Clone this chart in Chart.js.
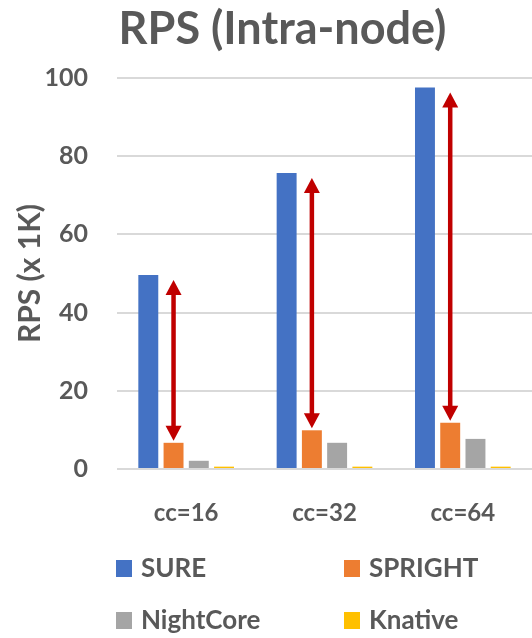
<!DOCTYPE html>
<html>
<head>
<meta charset="utf-8">
<script src="https://cdn.jsdelivr.net/npm/chart.js@4.4.1/dist/chart.umd.min.js"></script>
<style>
  html, body { margin: 0; padding: 0; background: #fff; }
  #wrap { width: 532px; height: 638px; }
</style>
</head>
<body>
<div id="wrap"><canvas id="myChart" width="532" height="638"></canvas></div>
<script>
const categories = ['cc=16', 'cc=32', 'cc=64'];
const sure = [49.6, 75.7, 97.6];
const spright = [6.7, 9.9, 11.8];
const nightcore = [2.1, 6.7, 7.7];
const knative = [0.6, 0.6, 0.6];
const yTicks = [0, 20, 40, 60, 80, 100];

const textColor = '#595959';
const fontFamily = 'Lato, "Open Sans", sans-serif';

// red double arrows from the SURE top down to the SPRIGHT top
const arrows = {
    id: 'arrows',
    afterDatasetsDraw(chart) {
        const ctx = chart.ctx;
        const y = chart.scales.y;
        const meta = chart.getDatasetMeta(1);
        ctx.save();
        ctx.fillStyle = '#C00000';
        ctx.strokeStyle = '#C00000';
        ctx.lineWidth = 4.5;
        meta.data.forEach((bar, i) => {
            const x = bar.x;
            const top = y.getPixelForValue(sure[i]) + 5;
            const bottom = y.getPixelForValue(spright[i]) - 2;
            const headL = 15, headW = 8;
            ctx.beginPath();
            ctx.moveTo(x, top + headL - 1);
            ctx.lineTo(x, bottom - headL + 1);
            ctx.stroke();
            ctx.beginPath();
            ctx.moveTo(x, top);
            ctx.lineTo(x - headW, top + headL);
            ctx.lineTo(x + headW, top + headL);
            ctx.closePath();
            ctx.fill();
            ctx.beginPath();
            ctx.moveTo(x, bottom);
            ctx.lineTo(x - headW, bottom - headL);
            ctx.lineTo(x + headW, bottom - headL);
            ctx.closePath();
            ctx.fill();
        });
        ctx.restore();
    }
};

// legend in a 2 x 2 grid under the axis
const gridLegend = {
    id: 'gridLegend',
    afterDraw(chart) {
        const ctx = chart.ctx;
        ctx.save();
        ctx.font = 'bold 26px ' + fontFamily;
        ctx.textBaseline = 'middle';
        ctx.textAlign = 'left';
        chart.data.datasets.forEach((ds, i) => {
            const col = i % 2, row = Math.floor(i / 2);
            const bx = 116 + col * 228;
            const cy = chart.height - 70 + row * 52;
            ctx.fillStyle = ds.backgroundColor;
            ctx.fillRect(bx, cy - 8, 16, 17);
            ctx.fillStyle = textColor;
            ctx.fillText(ds.label, bx + 25, cy + 1);
        });
        ctx.restore();
    }
};

// shift the title a bit right, like the original
const titleShift = {
    id: 'titleShift',
    afterLayout(chart) {
        if (chart.titleBlock) chart.titleBlock.left = 33;
    }
};

new Chart(document.getElementById('myChart'), {
    type: 'bar',
    data: {
        labels: categories,
        datasets: [
            { label: 'SURE', data: sure, backgroundColor: '#4472C4' },
            { label: 'SPRIGHT', data: spright, backgroundColor: '#ED7D31' },
            { label: 'NightCore', data: nightcore, backgroundColor: '#A5A5A5' },
            { label: 'Knative', data: knative, backgroundColor: '#FFC000' }
        ]
    },
    options: {
        responsive: false,
        animation: false,
        categoryPercentage: 0.73,
        barPercentage: 0.79,
        layout: { padding: { left: 10, right: 0, top: 0, bottom: 109 } },
        scales: {
            x: {
                grid: { display: false, drawTicks: false },
                border: { display: false },
                afterFit(scale) { scale.height = 60; },
                ticks: {
                    color: textColor,
                    padding: 30,
                    font: { family: fontFamily, size: 24, weight: 'bold' }
                }
            },
            y: {
                min: 0,
                max: 100,
                afterBuildTicks(scale) {
                    scale.ticks = yTicks.map(v => ({ value: v }));
                },
                afterFit(scale) { scale.width = 107; },
                grid: { color: '#D9D9D9', lineWidth: 2, drawTicks: false },
                border: { display: false },
                ticks: {
                    color: textColor,
                    padding: 29,
                    font: { family: fontFamily, size: 25, weight: 'bold' }
                },
                title: {
                    display: true,
                    text: 'RPS (x 1K)',
                    color: textColor,
                    padding: { top: 2, bottom: 2 },
                    font: { family: fontFamily, size: 30, weight: 'bold' }
                }
            }
        },
        plugins: {
            legend: { display: false },
            tooltip: { enabled: false },
            title: {
                display: true,
                text: 'RPS (Intra-node)',
                color: textColor,
                padding: { top: 2, bottom: 22 },
                font: { family: fontFamily, size: 45, weight: 'bold' }
            }
        }
    },
    plugins: [arrows, gridLegend, titleShift]
});
</script>
</body>
</html>
